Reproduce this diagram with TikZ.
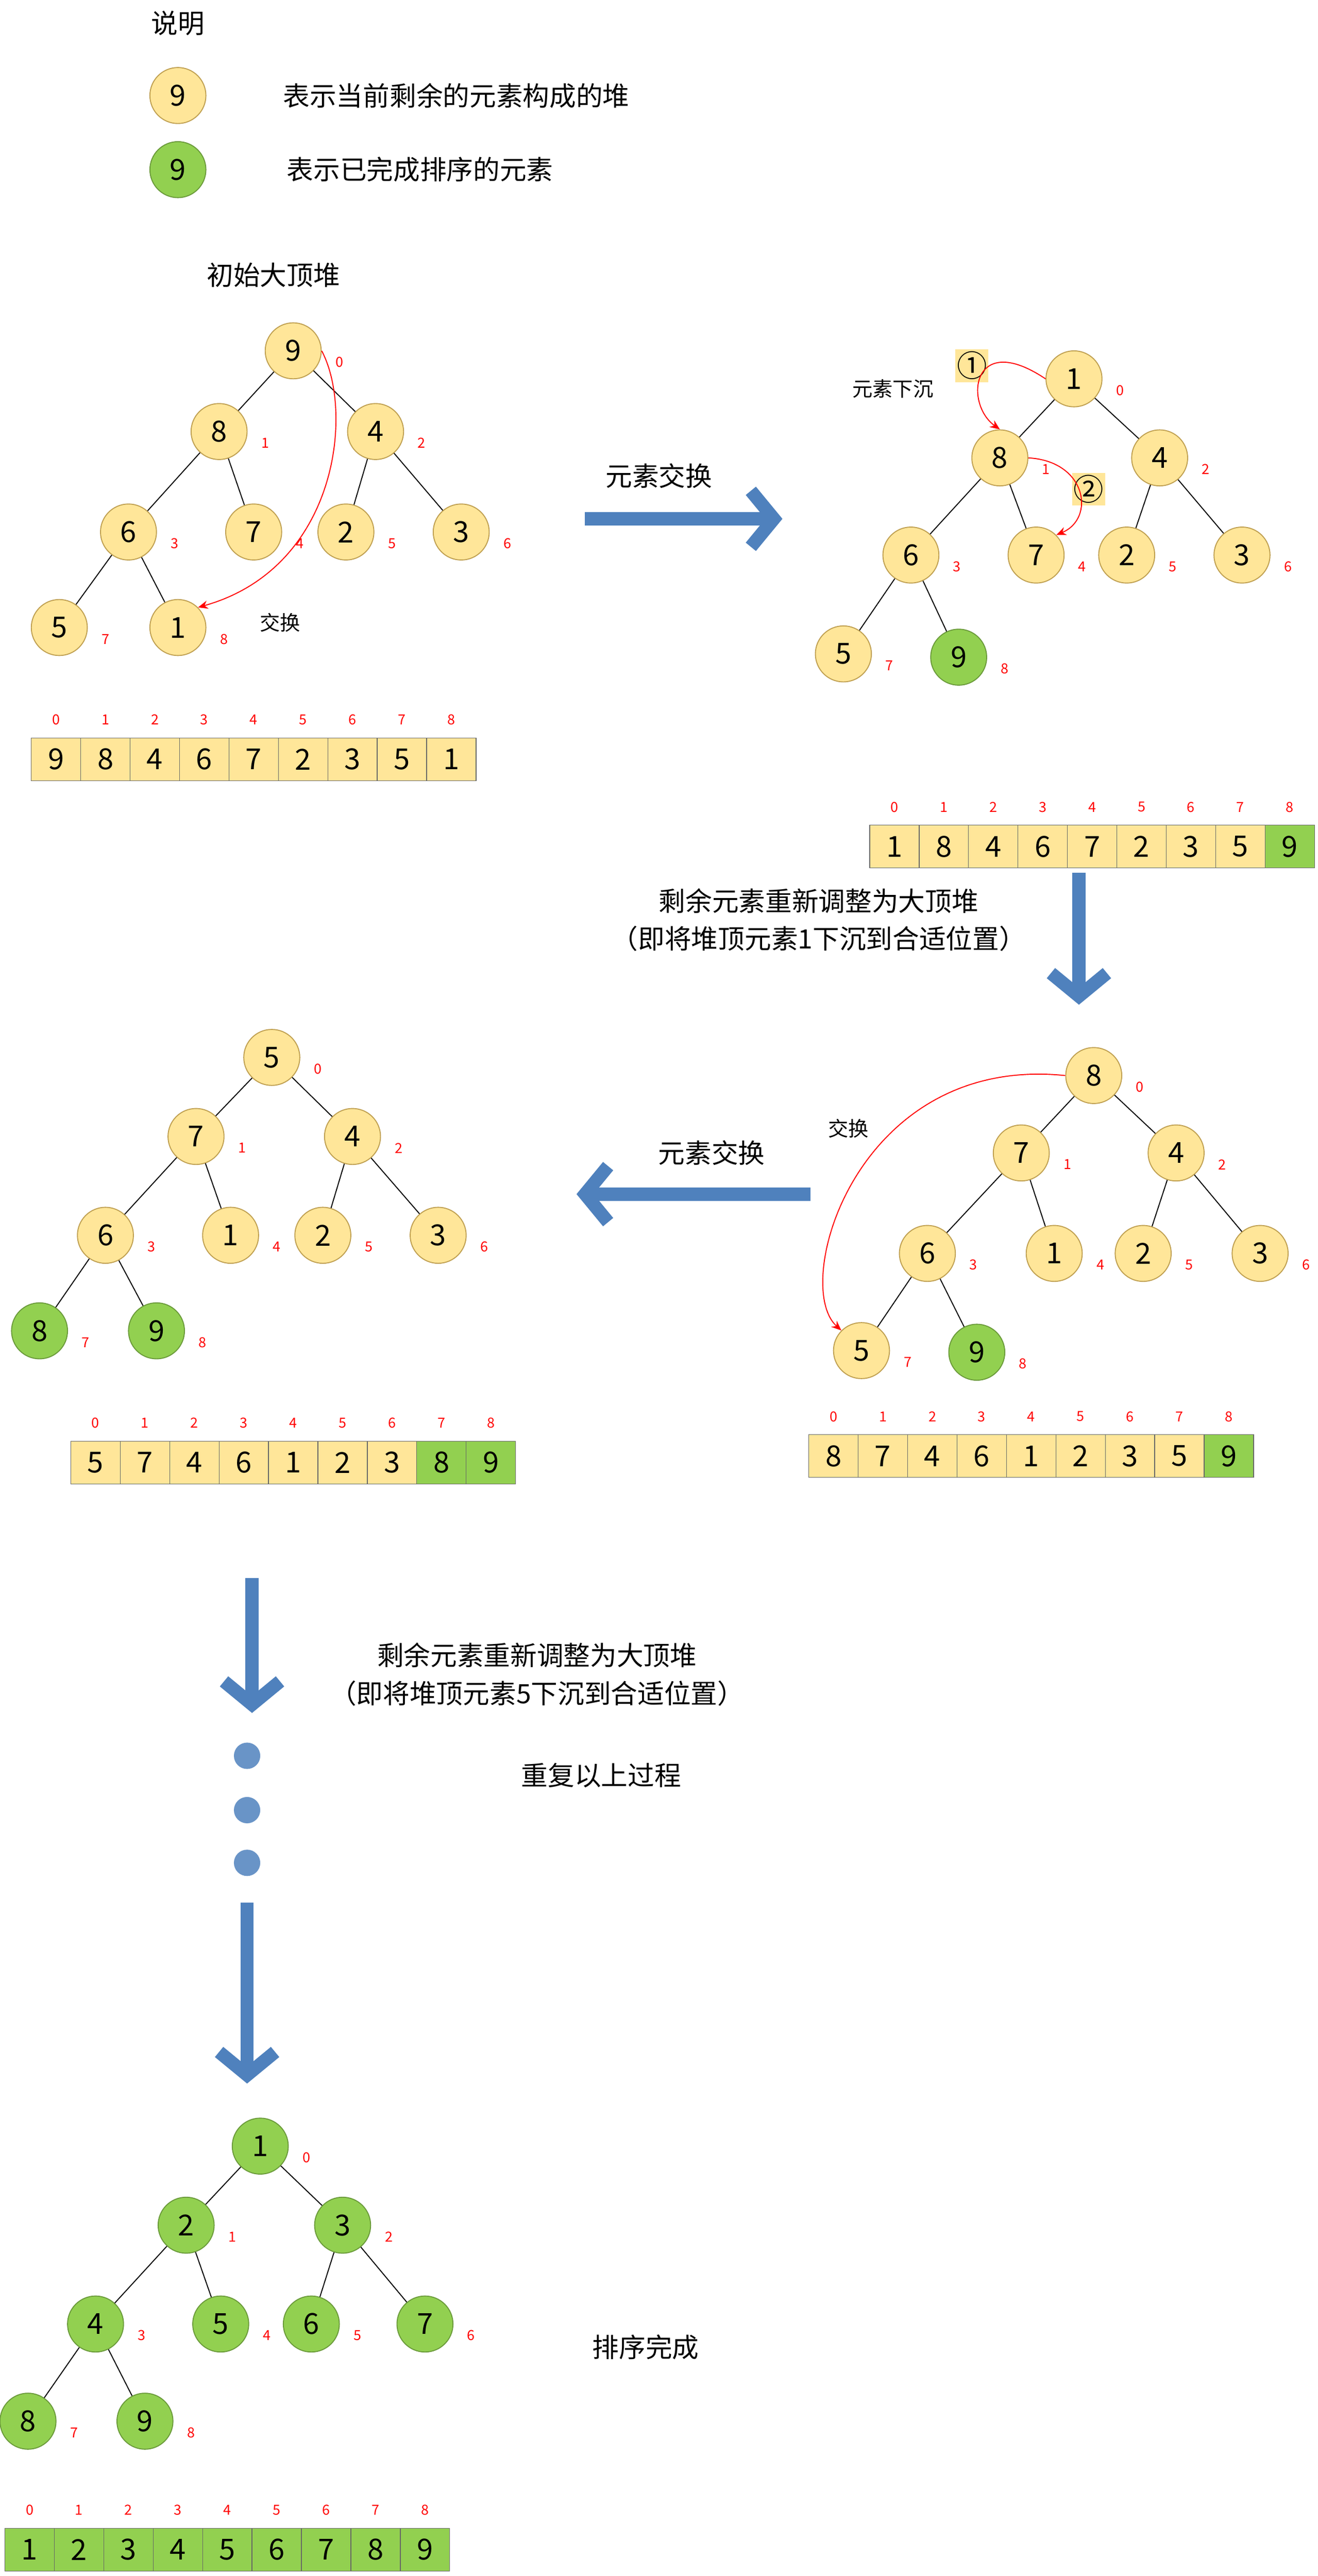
\documentclass[tikz,border=0pt]{standalone}
\usepackage{fontspec}
\setmainfont{Noto Sans CJK SC}
\usetikzlibrary{arrows.meta}
\definecolor{hy}{HTML}{FFE699}
\definecolor{hyd}{HTML}{BF9F50}
\definecolor{hg}{HTML}{92D050}
\definecolor{hgd}{HTML}{6A9A3A}
\definecolor{bl}{HTML}{4F81BD}
\begin{document}
\begin{tikzpicture}[x=1mm,y=-1mm,
 yn/.style={circle,draw=hyd,fill=hy,line width=0.6mm,minimum size=34mm,inner sep=0,font=\fontsize{50}{50}\selectfont},
 gn/.style={yn,draw=hgd,fill=hg},
 idx/.style={text=red,font=\fontsize{24}{24}\selectfont},
 cell/.style={rectangle,draw=black!60,line width=0.4mm,fill=hy,minimum width=30mm,minimum height=26mm,inner sep=0,font=\fontsize{50}{50}\selectfont},
 gcell/.style={cell,fill=hg},
 txt/.style={font=\fontsize{46}{46}\selectfont},
 stxt/.style={font=\fontsize{35}{35}\selectfont},
 edge/.style={line width=0.6mm},
 red arr/.style={red,line width=0.6mm,-{Stealth[length=6mm,width=5mm]}},
 big/.style={bl,line width=8mm,-{Straight Barb[length=14mm,width=34mm]}},
 num/.style={rectangle,fill=hy,minimum size=20mm,inner sep=0,font=\fontsize{52}{52}\selectfont}]
\useasboundingbox (0,0) rectangle (800,1564);
\newcommand\heap[2]{%
 \foreach \i/\x/\y/\v/\s in {#2}{%
  \node[\s] (#1\i) at (\x,\y) {\v};
  \node[idx] (#1i\i) at (\x+28,\y+7) {\i};}
 \foreach \a/\b in {0/1,0/2,1/3,1/4,2/5,2/6,3/7,3/8}{\draw[edge] (#1\a) -- (#1\b);}}
\newcommand\arr[4]{%
 \foreach \v/\s [count=\j from 0] in {#4}{%
  \node[\s] (#1c\j) at (#2+15+30*\j,#3) {\v};
  \node[idx] (#1k\j) at (#2+15+30*\j,#3-24) {\j};}}
% legend
\node[txt] (l0) at (108,14) {说明};
\node[yn] (l1) at (108,58) {9};
\node[txt] (l1t) at (277,58) {表示当前剩余的元素构成的堆};
\node[gn] (l2) at (108,103) {9};
\node[txt] (l2t) at (255,103) {表示已完成排序的元素};
% tree 1
\node[txt] (t1t) at (166,167) {初始大顶堆};
\heap{a}{0/178/213/9/yn,1/133/262/8/yn,2/228/262/4/yn,3/78/323/6/yn,4/154/323/7/yn,5/210/323/2/yn,6/280/323/3/yn,7/36/381/5/yn,8/108/381/1/yn}
\draw[red arr] (a0.east) .. controls (215,250) and (205,345) .. (a8.north east);
\node[stxt] (a9) at (170,378) {交换};
\arr{A}{19}{461}{9/cell,8/cell,4/cell,6/cell,7/cell,2/cell,3/cell,5/cell,1/cell}
% arrow right
\coordinate (r1) at (355,315); \coordinate (r2) at (475,315);
\draw[big] (r1) -- (r2);
\node[txt] (rt) at (400,289) {元素交换};
% tree 2
\heap{b}{0/652/230/1/yn,1/607/278/8/yn,2/704/278/4/yn,3/553/337/6/yn,4/629/337/7/yn,5/684/337/2/yn,6/754/337/3/yn,7/512/397/5/yn,8/582/399/9/gn}
\node[stxt] (b9) at (542,236) {元素下沉};
\node[num] (n1) at (590,222) {①};
\node[num] (n2) at (661,297) {②};
\draw[red arr] (b0.west) .. controls (590,200) and (585,245) .. (b1.north);
\draw[red arr] (b1.east) .. controls (660,280) and (665,315) .. (b4.north east);
\arr{B}{528}{514}{1/cell,8/cell,4/cell,6/cell,7/cell,2/cell,3/cell,5/cell,9/gcell}
\coordinate (d1) at (655,530); \coordinate (d2) at (655,610);
\draw[big] (d1) -- (d2);
\node[txt] (dt1) at (497,547) {剩余元素重新调整为大顶堆};
\node[txt] (dt2) at (497,570) {（即将堆顶元素1下沉到合适位置）};
% tree 3
\heap{c}{0/664/653/8/yn,1/620/700/7/yn,2/714/700/4/yn,3/563/761/6/yn,4/640/761/1/yn,5/694/761/2/yn,6/765/761/3/yn,7/523/820/5/yn,8/593/821/9/gn}
\draw[red arr] (c0.west) .. controls (520,640) and (480,780) .. (c7.north west);
\node[stxt] (c9) at (515,685) {交换};
\arr{C}{491}{884}{8/cell,7/cell,4/cell,6/cell,1/cell,2/cell,3/cell,5/cell,9/gcell}
\coordinate (e1) at (492,725); \coordinate (e2) at (350,725);
\draw[big] (e1) -- (e2);
\node[txt] (et) at (432,700) {元素交换};
% tree 4
\heap{d}{0/165/642/5/yn,1/119/690/7/yn,2/214/690/4/yn,3/64/750/6/yn,4/140/750/1/yn,5/196/750/2/yn,6/266/750/3/yn,7/24/808/8/gn,8/95/808/9/gn}
\arr{D}{43}{888}{5/cell,7/cell,4/cell,6/cell,1/cell,2/cell,3/cell,8/gcell,9/gcell}
% continuation
\coordinate (f1) at (153,958); \coordinate (f2) at (153,1040);
\draw[big] (f1) -- (f2);
\node[txt] (ft1) at (326,1005) {剩余元素重新调整为大顶堆};
\node[txt] (ft2) at (326,1028) {（即将堆顶元素5下沉到合适位置）};
\foreach \yy [count=\k] in {1066,1099,1131}{\node[circle,fill=bl!85,minimum size=16mm,inner sep=0] (dot\k) at (150,\yy) {};}
\node[txt] (rep) at (365,1078) {重复以上过程};
\coordinate (g1) at (150,1155); \coordinate (g2) at (150,1265);
\draw[big] (g1) -- (g2);
% tree 5
\heap{e}{0/158/1303/1/gn,1/113/1351/2/gn,2/208/1351/3/gn,3/58/1411/4/gn,4/134/1411/5/gn,5/189/1411/6/gn,6/258/1411/7/gn,7/17/1470/8/gn,8/88/1470/9/gn}
\node[txt] (done) at (392,1425) {排序完成};
\arr{E}{3}{1548}{1/gcell,2/gcell,3/gcell,4/gcell,5/gcell,6/gcell,7/gcell,8/gcell,9/gcell}
\end{tikzpicture}
\end{document}
